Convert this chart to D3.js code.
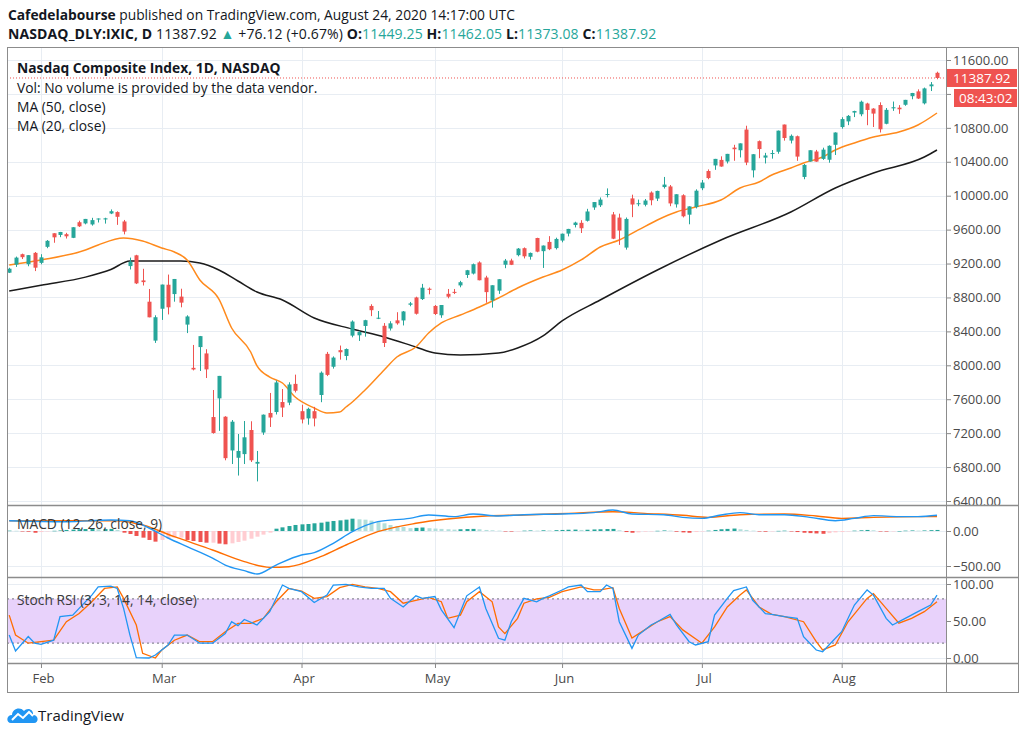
<!DOCTYPE html>
<html><head><meta charset="utf-8">
<script src="https://cdn.jsdelivr.net/npm/d3@7"></script>
<style>body{margin:0;background:#fff}svg{display:block}</style>
</head><body><svg id="c" width="1024" height="735"></svg>
<script>
// ---------------- DATA ----------------
const dates = ["01-27","01-28","01-29","01-30","01-31",
"02-03","02-04","02-05","02-06","02-07","02-10","02-11","02-12","02-13","02-14","02-18","02-19","02-20","02-21","02-24","02-25","02-26","02-27","02-28",
"03-02","03-03","03-04","03-05","03-06","03-09","03-10","03-11","03-12","03-13","03-16","03-17","03-18","03-19","03-20","03-23","03-24","03-25","03-26","03-27","03-30","03-31",
"04-01","04-02","04-03","04-06","04-07","04-08","04-09","04-13","04-14","04-15","04-16","04-17","04-20","04-21","04-22","04-23","04-24","04-27","04-28","04-29","04-30",
"05-01","05-04","05-05","05-06","05-07","05-08","05-11","05-12","05-13","05-14","05-15","05-18","05-19","05-20","05-21","05-22","05-26","05-27","05-28","05-29",
"06-01","06-02","06-03","06-04","06-05","06-08","06-09","06-10","06-11","06-12","06-15","06-16","06-17","06-18","06-19","06-22","06-23","06-24","06-25","06-26","06-29","06-30",
"07-01","07-02","07-06","07-07","07-08","07-09","07-10","07-13","07-14","07-15","07-16","07-17","07-20","07-21","07-22","07-23","07-24","07-27","07-28","07-29","07-30","07-31",
"08-03","08-04","08-05","08-06","08-07","08-10","08-11","08-12","08-13","08-14","08-17","08-18","08-19","08-20","08-21","08-24"];
const opens = [9092,9187,9310,9192,9326,
9208,9397,9557,9537,9546,9503,9687,9673,9661,9728,9720,9790,9807,9696,9170,9297,9001,8750,8291,
8667,8950,8840,8810,8480,7970,8215,8140,7390,7610,7394,6996,6910,6953,7237,6840,7207,7438,7449,7567,7560,7781,
7459,7374,7459,7650,8135,7983,8179,8110,8350,8354,8464,8700,8555,8466,8434,8530,8529,8714,8800,8781,8903,
8700,8590,8843,8866,8942,9065,9082,9213,9035,8765,8880,9186,9236,9299,9381,9280,9501,9346,9455,9382,
9471,9553,9654,9680,9704,9861,9887,10015,9779,9742,9388,9968,9903,9893,10037,9966,10102,10109,9898,10005,9776,9866,
10088,10291,10357,10422,10403,10567,10536,10780,10299,10643,10449,10495,10518,10839,10650,10701,10221,10403,10521,10434,10424,10600,
10809,10876,10980,10960,11087,11027,11069,10848,11030,11038,11072,11173,11230,11089,11290,11449.25];
const highs = [9150,9282,9317,9300,9336,
9310,9477,9558,9573,9562,9629,9705,9726,9739,9732,9740,9838,9816,9714,9270,9303,9138,8900,8590,
8952,9070,9018,8903,8590,8240,8346,8190,7709,7875,7400,7355,7190,7343,7340,6990,7420,7674,7820,7720,7800,7890,
7535,7500,7510,7928,8158,8105,8233,8199,8530,8407,8537,8720,8640,8498,8520,8626,8640,8747,8809,8960,8917,
8711,8711,8900,8900,8996,9125,9200,9226,9056,8944,9015,9254,9257,9383,9390,9330,9504,9413,9523,9505,
9553,9609,9693,9711,9845,9925,9979,10086,9808,9788,9743,10012,9954,9961,10051,10059,10221,10126,10017,10017,9875,10075,
10185,10310,10434,10464,10493,10600,10617,10825,10490,10651,10505,10538,10768,10839,10722,10709,10374,10537,10540,10566,10594,10747,
10925,10951,11002,11121,11096,11032,11101,11034,11110,11068,11130,11212,11254,11275,11340,11462.05];
const lows = [9088,9160,9253,9168,9111,
9191,9381,9445,9511,9495,9500,9631,9662,9647,9684,9671,9783,9656,9544,9130,8958,8941,8566,8264,
8535,8600,8750,8684,8380,7940,7933,7850,7194,7227,6880,6836,6700,6836,6860,6631,7180,7273,7420,7390,7530,7680,
7315,7300,7280,7565,7873,7961,8067,8060,8330,8287,8338,8580,8545,8216,8410,8479,8470,8696,8598,8770,8837,
8593,8560,8790,8840,8920,9030,9071,9002,8738,8680,8842,9145,9182,9285,9260,9246,9333,9148,9358,9366,
9450,9520,9626,9560,9695,9833,9867,9980,9488,9420,9364,9747,9876,9874,9887,9937,10084,9876,9860,9744,9663,9850,
10065,10194,10305,10341,10380,10412,10451,10360,10215,10442,10380,10437,10495,10649,10616,10411,10194,10402,10400,10422,10389,10480,
10790,10832,10927,10937,10831,10810,10745,10842,11000,10965,11060,11137,11140,11076,11234,11373.08];
const closes = [9139,9270,9275,9299,9151,
9273,9468,9509,9572,9521,9628,9639,9726,9712,9731,9733,9817,9751,9577,9221,8966,8981,8566,8567,
8952,8684,9018,8739,8576,7951,8344,7952,7202,7875,6905,7335,6990,7151,6880,6861,7418,7384,7798,7502,7774,7700,
7361,7487,7373,7913,7887,8091,8154,8192,8516,8393,8532,8650,8561,8263,8495,8495,8635,8730,8608,8915,8890,
8605,8711,8809,8854,8980,9121,9192,9003,8863,8944,9015,9235,9185,9376,9285,9325,9340,9412,9369,9490,
9552,9608,9683,9616,9814,9925,9954,10020,9493,9589,9726,9896,9911,9943,9946,10056,10131,9909,10017,9757,9874,10059,
10155,10208,10434,10344,10493,10548,10617,10391,10489,10550,10474,10503,10767,10680,10706,10461,10363,10536,10402,10543,10588,10745,
10903,10941,10998,11108,11011,10968,10783,11012,11043,11019,11130,11211,11146,11265,11312,11387.92];

// Moving averages (bar index, value)
const ma50Idx = [0,5,12,16,19,27,30,33,36,39,43,48,54,59,64,67,71,77,80,84,87,93,102,112,123,130,136,144,146];
const ma50Val = [8876,8945,9040,9130,9230,9230,9206,9124,8994,8864,8770,8558,8428,8334,8216,8145,8122,8145,8204,8346,8523,8770,9124,9478,9808,10091,10268,10456,10539];
const ma20Idx = [0,5,12,14,18,21,24,26,28,30,33,35,38,39,41,43,45,48,50,52,53,54,56,59,61,64,66,68,71,74,77,80,84,87,90,93,96,99,102,105,108,112,115,118,120,123,125,128,130,133,136,140,143,146];
const ma20Val = [9183,9242,9360,9419,9501,9466,9383,9336,9242,9006,8780,8440,8157,7992,7862,7791,7626,7497,7438,7449,7508,7567,7709,7945,8098,8216,8381,8499,8593,8688,8794,8912,9041,9124,9242,9395,9478,9596,9714,9808,9867,9949,10091,10162,10244,10327,10386,10456,10539,10622,10692,10751,10834,10975];

// MACD (12, 26, close, 9)
const macdIdx = [0,9,16,19,22,25,28,32,34,37,39,42,46,48,51,54,58,63,66,70,73,77,81,87,92,95,98,103,106,109,112,115,118,122,126,130,133,136,140,143,146];
const macdVal = [147,133,157,147,43,-100,-224,-386,-486,-567,-614,-486,-343,-310,-176,-10,133,181,229,205,243,214,233,243,262,300,243,233,195,181,229,262,233,233,195,147,181,219,205,205,224];
const signalIdx = [0,9,17,21,26,32,37,41,44,49,53,58,64,69,75,81,88,95,100,106,110,115,122,127,131,136,143,146];
const signalVal = [147,147,147,86,-81,-271,-438,-519,-510,-367,-200,-10,110,171,214,229,252,276,252,224,195,233,243,214,181,195,205,205];
const histVal = [5,3,-5,-10,-25,-15,-5,3,8,15,20,25,28,30,25,28,30,15,
-24,-43,-71,-95,-128,-152,-128,-110,-95,-95,-128,-143,-157,-167,-167,-180,-190,-176,-157,-138,-110,-81,-52,-24,
33,52,71,86,95,100,110,119,133,143,152,162,176,167,162,148,128,110,86,71,57,40,45,50,40,35,30,25,20,25,28,30,25,15,10,5,
-5,-8,-5,5,8,5,10,8,12,15,18,20,15,18,22,25,28,30,10,-15,-25,-20,-10,-5,3,8,5,-10,-20,-25,-15,-8,5,15,25,30,35,25,15,5,
-5,-10,-5,2,5,-5,-15,-25,-30,-35,-40,-30,-20,-15,-5,5,10,15,10,-5,-8,-5,0,5,8,5,8,12,15];

// Stoch RSI (3, 3, 14, 14, close)
const kIdx = [0,1,3,4,5,7,8,10,11,13,14,16,17,18,19,20,22,23,25,26,28,30,32,34,35,36,37,39,41,43,44,46,48,50,51,53,55,57,59,60,62,64,65,67,68,70,71,72,74,75,77,78,79,81,83,84,85,87,88,90,91,93,94,95,96,98,99,101,102,104,105,107,108,110,111,113,114,116,117,119,120,122,124,125,127,128,129,131,133,135,136,138,139,141,143,145,146];
const kVal = [31,9.5,29,20,18.5,24,56,58,67,85,96,97,94,67,31,0.5,0,4,17.6,31,31,20,20,33,49,43.7,52,44.6,62.6,98.6,94,89.6,75,85,98.6,99.5,96,94,94,80.6,69,84,80.6,83,65,41,62.6,84,96,67,26.6,24,49,80.6,76,80.6,84,91.9,96,98.6,89.6,89.6,98.6,94,49,13,31,44.6,49,59,44.6,22,17.6,22,58,80.6,91,96,78,60,59,56,53.6,28.8,10.8,8.5,17.6,35.5,71.6,92,85,53.6,44.6,53.6,62.6,71.6,85];
const dIdx = [0,1,3,5,7,9,11,13,15,17,18,20,21,23,24,26,28,30,32,34,36,38,40,42,44,46,48,50,52,54,56,58,60,62,64,66,68,69,71,72,74,76,77,78,80,81,83,85,87,90,92,93,95,96,98,100,102,104,106,109,111,113,115,116,118,120,122,125,127,128,130,132,135,136,138,140,142,144,146];
const dVal = [58,31,20,22,24,49,60,76,94,96,80.6,44.6,6.3,0,10.8,24,31,22,22,35.5,46.8,46.8,53.6,76,94,90.5,80.6,83,95,99.5,96,94,89.6,74,78,82,76,53.6,58,76,89.6,76,42,33,53.6,74,80,82,89.6,96,92,92,95,67,27,38,49,56,38,20,42,69,85,92,69,59,56,49,22,11,17.6,49,80.6,87,67,47,53.6,62.6,76];

const priceTicks = [6400,6800,7200,7600,8000,8400,8800,9200,9600,10000,10400,10800,11200,11600];
const hiddenPriceLabels = [11200]; // covered by the countdown box in the original
const macdTicks = [-500,0];
const stochTicks = [0,50,100];
const monthNames = ["Jan","Feb","Mar","Apr","May","Jun","Jul","Aug"];

// ---------------- LAYOUT ----------------
const L = 7, R = 1018, AX = 946, T = 47, P1 = 505, P2 = 577, P3 = 663, B = 692;
const FONT = '"Open Sans", "Noto Sans", sans-serif';
const UP = "#26a69a", DN = "#ef5350", GRID = "#e8edf3", TXT = "#131722", AXT = "#4a4a4a";
const svg = d3.select("#c");

const N = dates.length;
const idx = d3.range(N);
const x = d3.scaleLinear().domain([0, N - 1]).range([9.2, 937]);
const yP = d3.scaleLinear().domain([6400, 11600]).range([501, 60]);
const yM = d3.scaleLinear().domain([-500, 0]).range([566, 531]);
const yS = d3.scaleLinear().domain([0, 100]).range([658, 584]);

const defs = svg.append("defs");
[["cp1", T, P1], ["cp2", P1, P2], ["cp3", P2, P3]].forEach(([id, a, b]) => {
  defs.append("clipPath").attr("id", id).append("rect").attr("x", L).attr("y", a).attr("width", AX - L).attr("height", b - a);
});

const monthStarts = idx.filter(i => i > 0 && dates[i].slice(0, 2) !== dates[i - 1].slice(0, 2));

// ---------- header ----------
const h1 = svg.append("text").attr("x", 8).attr("y", 20).attr("font-family", FONT).attr("font-size", 13.8).attr("fill", TXT);
h1.append("tspan").attr("font-weight", "bold").text("Cafedelabourse");
h1.append("tspan").text(" published on TradingView.com, August 24, 2020 14:17:00 UTC");
const h2 = svg.append("text").attr("x", 8).attr("y", 39).attr("font-family", FONT).attr("font-size", 14).attr("letter-spacing", 0.12).attr("fill", TXT);
h2.append("tspan").attr("font-weight", "bold").text("NASDAQ_DLY:IXIC, D");
h2.append("tspan").text(" 11387.92 ");
h2.append("tspan").attr("fill", UP).text("▲");
h2.append("tspan").text(" +76.12 (+0.67%) ");
[["O:", "11449.25"], [" H:", "11462.05"], [" L:", "11373.08"], [" C:", "11387.92"]].forEach(([k, v]) => {
  h2.append("tspan").attr("font-weight", "bold").text(k);
  h2.append("tspan").attr("fill", UP).text(v);
});

// ---------- grids ----------
const grid = svg.append("g").attr("stroke", GRID).attr("stroke-width", 1);
priceTicks.forEach(v => grid.append("line").attr("x1", L).attr("x2", AX).attr("y1", Math.round(yP(v)) + 0.5).attr("y2", Math.round(yP(v)) + 0.5));
macdTicks.forEach(v => grid.append("line").attr("x1", L).attr("x2", AX).attr("y1", Math.round(yM(v)) + 0.5).attr("y2", Math.round(yM(v)) + 0.5));
stochTicks.forEach(v => grid.append("line").attr("x1", L).attr("x2", AX).attr("y1", Math.round(yS(v)) + 0.5).attr("y2", Math.round(yS(v)) + 0.5));
monthStarts.forEach(i => grid.append("line").attr("x1", Math.round(x(i)) + 0.5).attr("x2", Math.round(x(i)) + 0.5).attr("y1", T).attr("y2", P3));

// ---------- main pane ----------
const g1 = svg.append("g").attr("clip-path", "url(#cp1)");
g1.append("line").attr("x1", L).attr("x2", AX).attr("y1", yP(closes[N - 1])).attr("y2", yP(closes[N - 1]))
  .attr("stroke", DN).attr("stroke-width", 1).attr("stroke-dasharray", "1,2");
const maLine = (ix, vals, y) => d3.line().x((d, k) => x(ix[k])).y(d => y(d)).curve(d3.curveMonotoneX)(vals);
g1.append("path").attr("d", maLine(ma50Idx, ma50Val, yP)).attr("fill", "none").attr("stroke", "#1b1b1b").attr("stroke-width", 1.5);
g1.append("path").attr("d", maLine(ma20Idx, ma20Val, yP)).attr("fill", "none").attr("stroke", "#ff8a1c").attr("stroke-width", 1.5);
const cg = g1.append("g");
cg.selectAll("line.w").data(idx).join("line").attr("class", "w")
  .attr("x1", i => Math.round(x(i)) + 0.5).attr("x2", i => Math.round(x(i)) + 0.5)
  .attr("y1", i => yP(highs[i])).attr("y2", i => yP(lows[i]))
  .attr("stroke", i => closes[i] >= opens[i] ? UP : DN).attr("stroke-width", 1);
cg.selectAll("rect.b").data(idx).join("rect").attr("class", "b")
  .attr("x", i => Math.round(x(i)) - 1.5).attr("width", 4)
  .attr("y", i => yP(Math.max(opens[i], closes[i])))
  .attr("height", i => Math.max(1, Math.abs(yP(opens[i]) - yP(closes[i]))))
  .attr("fill", i => closes[i] >= opens[i] ? UP : DN);

const lg = svg.append("g").attr("font-family", FONT).attr("font-size", 13.8).attr("fill", TXT);
lg.append("text").attr("x", 17).attr("y", 73).attr("font-weight", "bold").text("Nasdaq Composite Index, 1D, NASDAQ");
lg.append("text").attr("x", 17).attr("y", 93).text("Vol: No volume is provided by the data vendor.");
lg.append("text").attr("x", 17).attr("y", 112).text("MA (50, close)");
lg.append("text").attr("x", 17).attr("y", 131).text("MA (20, close)");

// ---------- MACD pane ----------
const g2 = svg.append("g").attr("clip-path", "url(#cp2)");
g2.selectAll("rect").data(idx).join("rect")
  .attr("x", i => Math.round(x(i)) - 1.5).attr("width", 4)
  .attr("y", i => Math.min(yM(histVal[i]), yM(0)))
  .attr("height", i => Math.max(0.5, Math.abs(yM(histVal[i]) - yM(0))))
  .attr("fill", i => {
    const v = histVal[i], p = i > 0 ? histVal[i - 1] : v;
    if (v >= 0) return v >= p ? "#26a69a" : "#b2dfdb";
    return v < p ? "#ef5350" : "#ffcdd2";
  });
g2.append("path").attr("d", maLine(signalIdx, signalVal, yM)).attr("fill", "none").attr("stroke", "#ff6d00").attr("stroke-width", 1.4);
g2.append("path").attr("d", maLine(macdIdx, macdVal, yM)).attr("fill", "none").attr("stroke", "#2196f3").attr("stroke-width", 1.4);
svg.append("text").attr("x", 17).attr("y", 529).attr("font-family", FONT).attr("font-size", 13.8).attr("fill", "#3a3a3a").text("MACD (12, 26, close, 9)");

// ---------- Stoch RSI pane ----------
const g3 = svg.append("g").attr("clip-path", "url(#cp3)");
g3.append("rect").attr("x", L).attr("width", AX - L).attr("y", yS(80)).attr("height", yS(20) - yS(80)).attr("fill", "#e8d2fb");
[80, 20].forEach(v => g3.append("line").attr("x1", L).attr("x2", AX).attr("y1", yS(v)).attr("y2", yS(v))
  .attr("stroke", "#8a8a96").attr("stroke-width", 1.3).attr("stroke-dasharray", "2,3"));
const lin = (ix, vals, y) => d3.line().x((d, k) => x(ix[k])).y(d => y(d))(vals);
g3.append("path").attr("d", lin(dIdx, dVal, yS)).attr("fill", "none").attr("stroke", "#ff6d00").attr("stroke-width", 1.3);
g3.append("path").attr("d", lin(kIdx, kVal, yS)).attr("fill", "none").attr("stroke", "#2196f3").attr("stroke-width", 1.3);
svg.append("text").attr("x", 17).attr("y", 605).attr("font-family", FONT).attr("font-size", 13.8).attr("fill", "#3a3a3a").text("Stoch RSI (3, 3, 14, 14, close)");

// ---------- axes ----------
const fmt = d3.format(".2f");
const axStyle = sel => {
  sel.attr("font-family", FONT).attr("font-size", 13);
  sel.select(".domain").remove();
  sel.selectAll(".tick line").attr("stroke", "#888");
  sel.selectAll(".tick text").attr("fill", AXT).attr("x", 7);
};
svg.append("g").attr("transform", `translate(${AX},0)`)
  .call(d3.axisRight(yP).tickValues(priceTicks).tickFormat(v => hiddenPriceLabels.includes(v) ? "" : fmt(v)).tickSize(5)).call(axStyle);
svg.append("g").attr("transform", `translate(${AX},0)`)
  .call(d3.axisRight(yM).tickValues(macdTicks).tickFormat(v => v < 0 ? "\u2212" + fmt(-v) : fmt(v)).tickSize(5)).call(axStyle);
svg.append("g").attr("transform", `translate(${AX},0)`)
  .call(d3.axisRight(yS).tickValues(stochTicks).tickFormat(fmt).tickSize(5)).call(axStyle);

const xa = svg.append("g").attr("transform", `translate(0,${P3})`)
  .call(d3.axisBottom(x).tickValues(monthStarts).tickFormat(i => monthNames[+dates[i].slice(0, 2) - 1]).tickSize(5));
xa.select(".domain").remove();
xa.selectAll(".tick line").attr("stroke", "#888");
xa.selectAll(".tick text").attr("font-family", FONT).attr("font-size", 13).attr("fill", AXT).attr("y", 11).attr("dx", 2);

// price label boxes
svg.append("rect").attr("x", AX + 1).attr("y", yP(closes[N - 1]) - 9).attr("width", R - AX - 2).attr("height", 18).attr("fill", DN);
svg.append("text").attr("x", AX + 7).attr("y", yP(closes[N - 1]) + 5).attr("font-family", FONT).attr("font-size", 13.5).attr("fill", "#fff").text(fmt(closes[N - 1]));
svg.append("rect").attr("x", AX + 8).attr("y", 89).attr("width", R - AX - 9).attr("height", 18).attr("fill", DN);
svg.append("text").attr("x", AX + 13).attr("y", 103).attr("font-family", FONT).attr("font-size", 13.5).attr("fill", "#fff").text("08:43:02");

// frame and separators
const fr = svg.append("g").attr("stroke", "#8c8c8c").attr("fill", "none");
fr.append("rect").attr("x", L + 0.5).attr("y", T + 0.5).attr("width", R - L).attr("height", B - T);
fr.append("line").attr("x1", AX + 0.5).attr("x2", AX + 0.5).attr("y1", T).attr("y2", B);
[P1, P2, P3].forEach(y => fr.append("line").attr("x1", L).attr("x2", R).attr("y1", y + 0.5).attr("y2", y + 0.5).attr("stroke-width", 1.5));

// TradingView logo
const logo = svg.append("g").attr("transform", "translate(8,704)");
logo.append("path").attr("d", "M3,19 C-2,19 -2,11 4,11 C4,5 12,2 16,7 C19,3 26,5 25,11 C31,11 31,19 26,19 Z").attr("fill", "#2196f3");
logo.append("path").attr("d", "M4,16 L10,10 L15,14 L21,8 L25,12").attr("fill", "none").attr("stroke", "#fff").attr("stroke-width", 2);
svg.append("text").attr("x", 38).attr("y", 721).attr("font-family", FONT).attr("font-size", 15).attr("fill", TXT).text("TradingView");
</script></body></html>
